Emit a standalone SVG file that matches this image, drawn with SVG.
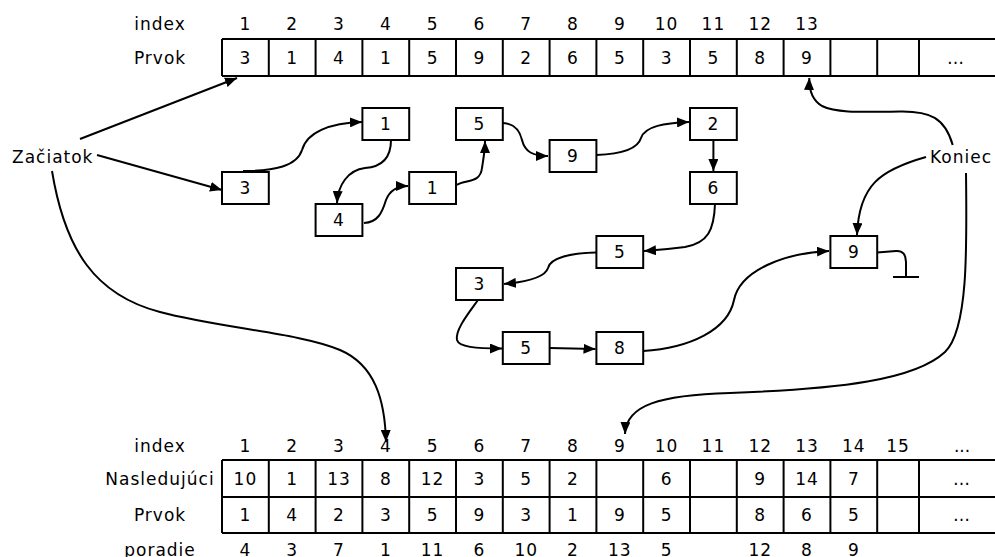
<svg xmlns="http://www.w3.org/2000/svg" width="995" height="557" viewBox="0 0 995 557">
<defs>
  <marker id="arrow" viewBox="0 0 12 10" refX="12" refY="5" markerWidth="12" markerHeight="10" orient="auto" markerUnits="userSpaceOnUse">
    <path d="M0,0 L12,5 L0,10 z" fill="#000"/>
  </marker>
</defs>
<style>
  text{font-family:"DejaVu Sans","Liberation Sans",sans-serif;font-size:17px;letter-spacing:1px;fill:#000}
  .c{text-anchor:middle}
  .grid{stroke:#000;stroke-width:2;fill:none}
  .box{fill:#fff;stroke:#000;stroke-width:2}
  .link{fill:none;stroke:#000;stroke-width:2}
  .arr{marker-end:url(#arrow)}
</style>
<rect width="995" height="557" fill="#fff"/>

<!-- upper array: index / Prvok -->
<g id="top-table">
  <path class="grid" d="M222,39 H995 M222,76 H995 M222,39 V76 M268.8,39 V76 M315.6,39 V76 M362.4,39 V76 M409.2,39 V76 M456,39 V76 M502.8,39 V76 M549.6,39 V76 M596.4,39 V76 M643.2,39 V76 M690,39 V76 M736.8,39 V76 M783.6,39 V76 M830.4,39 V76 M877.2,39 V76 M919,39 V76"/>
  <text class="c" x="160" y="30">index</text>
  <text class="c" x="160" y="63.5">Prvok</text>
  <text class="c" x="245.4" y="30">1</text>
  <text class="c" x="292.2" y="30">2</text>
  <text class="c" x="339" y="30">3</text>
  <text class="c" x="385.8" y="30">4</text>
  <text class="c" x="432.6" y="30">5</text>
  <text class="c" x="479.4" y="30">6</text>
  <text class="c" x="526.2" y="30">7</text>
  <text class="c" x="573" y="30">8</text>
  <text class="c" x="619.8" y="30">9</text>
  <text class="c" x="666.6" y="30">10</text>
  <text class="c" x="713.4" y="30">11</text>
  <text class="c" x="760.2" y="30">12</text>
  <text class="c" x="807" y="30">13</text>

  <text class="c" x="245.4" y="63.5">3</text>
  <text class="c" x="292.2" y="63.5">1</text>
  <text class="c" x="339" y="63.5">4</text>
  <text class="c" x="385.8" y="63.5">1</text>
  <text class="c" x="432.6" y="63.5">5</text>
  <text class="c" x="479.4" y="63.5">9</text>
  <text class="c" x="526.2" y="63.5">2</text>
  <text class="c" x="573" y="63.5">6</text>
  <text class="c" x="619.8" y="63.5">5</text>
  <text class="c" x="666.6" y="63.5">3</text>
  <text class="c" x="713.4" y="63.5">5</text>
  <text class="c" x="760.2" y="63.5">8</text>
  <text class="c" x="807" y="63.5">9</text>
  <text class="c" x="957" y="63.5" style="letter-spacing:3px">…</text>
</g>

<!-- lower array: index / Nasledujúci / Prvok / poradie -->
<g id="bottom-table">
  <path class="grid" d="M222,460 H995 M222,497 H995 M222,533 H995 M222,460 V533 M268.8,460 V533 M315.6,460 V533 M362.4,460 V533 M409.2,460 V533 M456,460 V533 M502.8,460 V533 M549.6,460 V533 M596.4,460 V533 M643.2,460 V533 M690,460 V533 M736.8,460 V533 M783.6,460 V533 M830.4,460 V533 M877.2,460 V533 M919,460 V533"/>
  <text class="c" x="160" y="451.5">index</text>
  <text class="c" x="160" y="484.5">Nasledujúci</text>
  <text class="c" x="160" y="521">Prvok</text>
  <text class="c" x="160" y="555.5">poradie</text>

  <text class="c" x="245.4" y="451.5">1</text>
  <text class="c" x="292.2" y="451.5">2</text>
  <text class="c" x="339" y="451.5">3</text>
  <text class="c" x="385.8" y="451.5">4</text>
  <text class="c" x="432.6" y="451.5">5</text>
  <text class="c" x="479.4" y="451.5">6</text>
  <text class="c" x="526.2" y="451.5">7</text>
  <text class="c" x="573" y="451.5">8</text>
  <text class="c" x="619.8" y="451.5">9</text>
  <text class="c" x="666.6" y="451.5">10</text>
  <text class="c" x="713.4" y="451.5">11</text>
  <text class="c" x="760.2" y="451.5">12</text>
  <text class="c" x="807" y="451.5">13</text>
  <text class="c" x="853.8" y="451.5">14</text>
  <text class="c" x="898.1" y="451.5">15</text>
  <text class="c" x="962" y="451.5" style="letter-spacing:0">...</text>

  <text class="c" x="245.4" y="484.5">10</text>
  <text class="c" x="292.2" y="484.5">1</text>
  <text class="c" x="339" y="484.5">13</text>
  <text class="c" x="385.8" y="484.5">8</text>
  <text class="c" x="432.6" y="484.5">12</text>
  <text class="c" x="479.4" y="484.5">3</text>
  <text class="c" x="526.2" y="484.5">5</text>
  <text class="c" x="573" y="484.5">2</text>
  <text class="c" x="666.6" y="484.5">6</text>
  <text class="c" x="760.2" y="484.5">9</text>
  <text class="c" x="807" y="484.5">14</text>
  <text class="c" x="853.8" y="484.5">7</text>
  <text class="c" x="962" y="484.5">…</text>

  <text class="c" x="245.4" y="521">1</text>
  <text class="c" x="292.2" y="521">4</text>
  <text class="c" x="339" y="521">2</text>
  <text class="c" x="385.8" y="521">3</text>
  <text class="c" x="432.6" y="521">5</text>
  <text class="c" x="479.4" y="521">9</text>
  <text class="c" x="526.2" y="521">3</text>
  <text class="c" x="573" y="521">1</text>
  <text class="c" x="619.8" y="521">9</text>
  <text class="c" x="666.6" y="521">5</text>
  <text class="c" x="760.2" y="521">8</text>
  <text class="c" x="807" y="521">6</text>
  <text class="c" x="853.8" y="521">5</text>
  <text class="c" x="962" y="521">…</text>

  <text class="c" x="245.4" y="555.5">4</text>
  <text class="c" x="292.2" y="555.5">3</text>
  <text class="c" x="339" y="555.5">7</text>
  <text class="c" x="385.8" y="555.5">1</text>
  <text class="c" x="432.6" y="555.5">11</text>
  <text class="c" x="479.4" y="555.5">6</text>
  <text class="c" x="526.2" y="555.5">10</text>
  <text class="c" x="573" y="555.5">2</text>
  <text class="c" x="619.8" y="555.5">13</text>
  <text class="c" x="666.6" y="555.5">5</text>
  <text class="c" x="760.2" y="555.5">12</text>
  <text class="c" x="807" y="555.5">8</text>
  <text class="c" x="853.8" y="555.5">9</text>
</g>

<!-- pointer labels -->
<g id="zaciatok"><text x="12" y="162.7">Začiatok</text></g>
<g id="koniec"><text x="930" y="163">Koniec</text></g>

<!-- linked list nodes -->
<g id="n1"><rect class="box" x="222" y="172" width="46.8" height="32"/><text class="c" x="245.4" y="194">3</text></g>
<g id="n2"><rect class="box" x="362.4" y="108" width="46.8" height="32"/><text class="c" x="385.8" y="130">1</text></g>
<g id="n3"><rect class="box" x="315.6" y="204" width="46.8" height="32"/><text class="c" x="339" y="226">4</text></g>
<g id="n4"><rect class="box" x="409.2" y="172" width="46.8" height="32"/><text class="c" x="432.6" y="194">1</text></g>
<g id="n5"><rect class="box" x="456" y="108" width="46.8" height="32"/><text class="c" x="479.4" y="130">5</text></g>
<g id="n6"><rect class="box" x="549.6" y="140" width="46.8" height="32"/><text class="c" x="573" y="162">9</text></g>
<g id="n7"><rect class="box" x="690" y="108" width="46.8" height="32"/><text class="c" x="713.4" y="130">2</text></g>
<g id="n8"><rect class="box" x="690" y="172" width="46.8" height="32"/><text class="c" x="713.4" y="194">6</text></g>
<g id="n9"><rect class="box" x="596.4" y="236" width="46.8" height="32"/><text class="c" x="619.8" y="258">5</text></g>
<g id="n10"><rect class="box" x="456" y="268" width="46.8" height="32"/><text class="c" x="479.4" y="290">3</text></g>
<g id="n11"><rect class="box" x="502.8" y="332" width="46.8" height="32"/><text class="c" x="526.2" y="354">5</text></g>
<g id="n12"><rect class="box" x="596.4" y="332" width="46.8" height="32"/><text class="c" x="619.8" y="354">8</text></g>
<g id="n13"><rect class="box" x="830.4" y="236" width="46.8" height="32"/><text class="c" x="853.8" y="258">9</text></g>

<!-- connectors -->
<g id="connectors">
  <!-- Začiatok pointers -->
  <path class="link arr" d="M80,139 L237,78"/>
  <path class="link arr" d="M97,155 L222,190"/>
  <path class="link arr" d="M52,171 C65,250 95,295 160,312 C220,328 300,333 340,350 C375,365 385,400 386,442"/>
  <!-- Koniec pointers -->
  <path class="link arr" d="M952.7,145 C945,118 930,111 900,111.5 C860,112 836,113 822,106 C812,100 809,90 809.3,78"/>
  <path class="link arr" d="M926,157 C880,170 859,185 857,235"/>
  <path class="link arr" d="M966,173 C967,250 968,330 945,352 C915,380 840,389 730,393 C660,395 626,405 625,434"/>
  <!-- list links -->
  <path class="link arr" d="M243,171 C275,171 297,166 302,150 C307,132 330,123 362,122"/>
  <path class="link arr" d="M391,140 C391,160 380,167 365,168 C348,170 338,185 337,203"/>
  <path class="link arr" d="M364,223 C378,222 382,213 386,200 C390,190 398,186 408,186"/>
  <path class="link arr" d="M456.5,185 C466,179 480,184 482,168 C484,155 485,150 485,141"/>
  <path class="link arr" d="M503,123 C516,124 520,132 522,140 C525,152 533,156 548,156"/>
  <path class="link arr" d="M596.5,155 C625,154 638,148 641,138 C645,126 665,123 689,122"/>
  <path class="link arr" d="M713.4,140 L713.4,171"/>
  <path class="link arr" d="M715,204 C714,230 708,243 685,247 C670,249 660,250 644,251"/>
  <path class="link arr" d="M596,252.5 C570,253 550,258 548,268 C545,278 525,282 504,284"/>
  <path class="link arr" d="M478,300 C468,314 455,330 457,340 C459,347 475,348.5 502,348.5"/>
  <path class="link arr" d="M549.6,348 L595.5,349"/>
  <path class="link arr" d="M643,351 C690,348 728,330 734,300 C740,270 785,253 829,251"/>
  <!-- null terminator -->
  <path class="link" d="M877,252.5 L896,251 C903,250.5 906,255 906,262 L906,277 M893,277 L919,277"/>
</g>
</svg>
